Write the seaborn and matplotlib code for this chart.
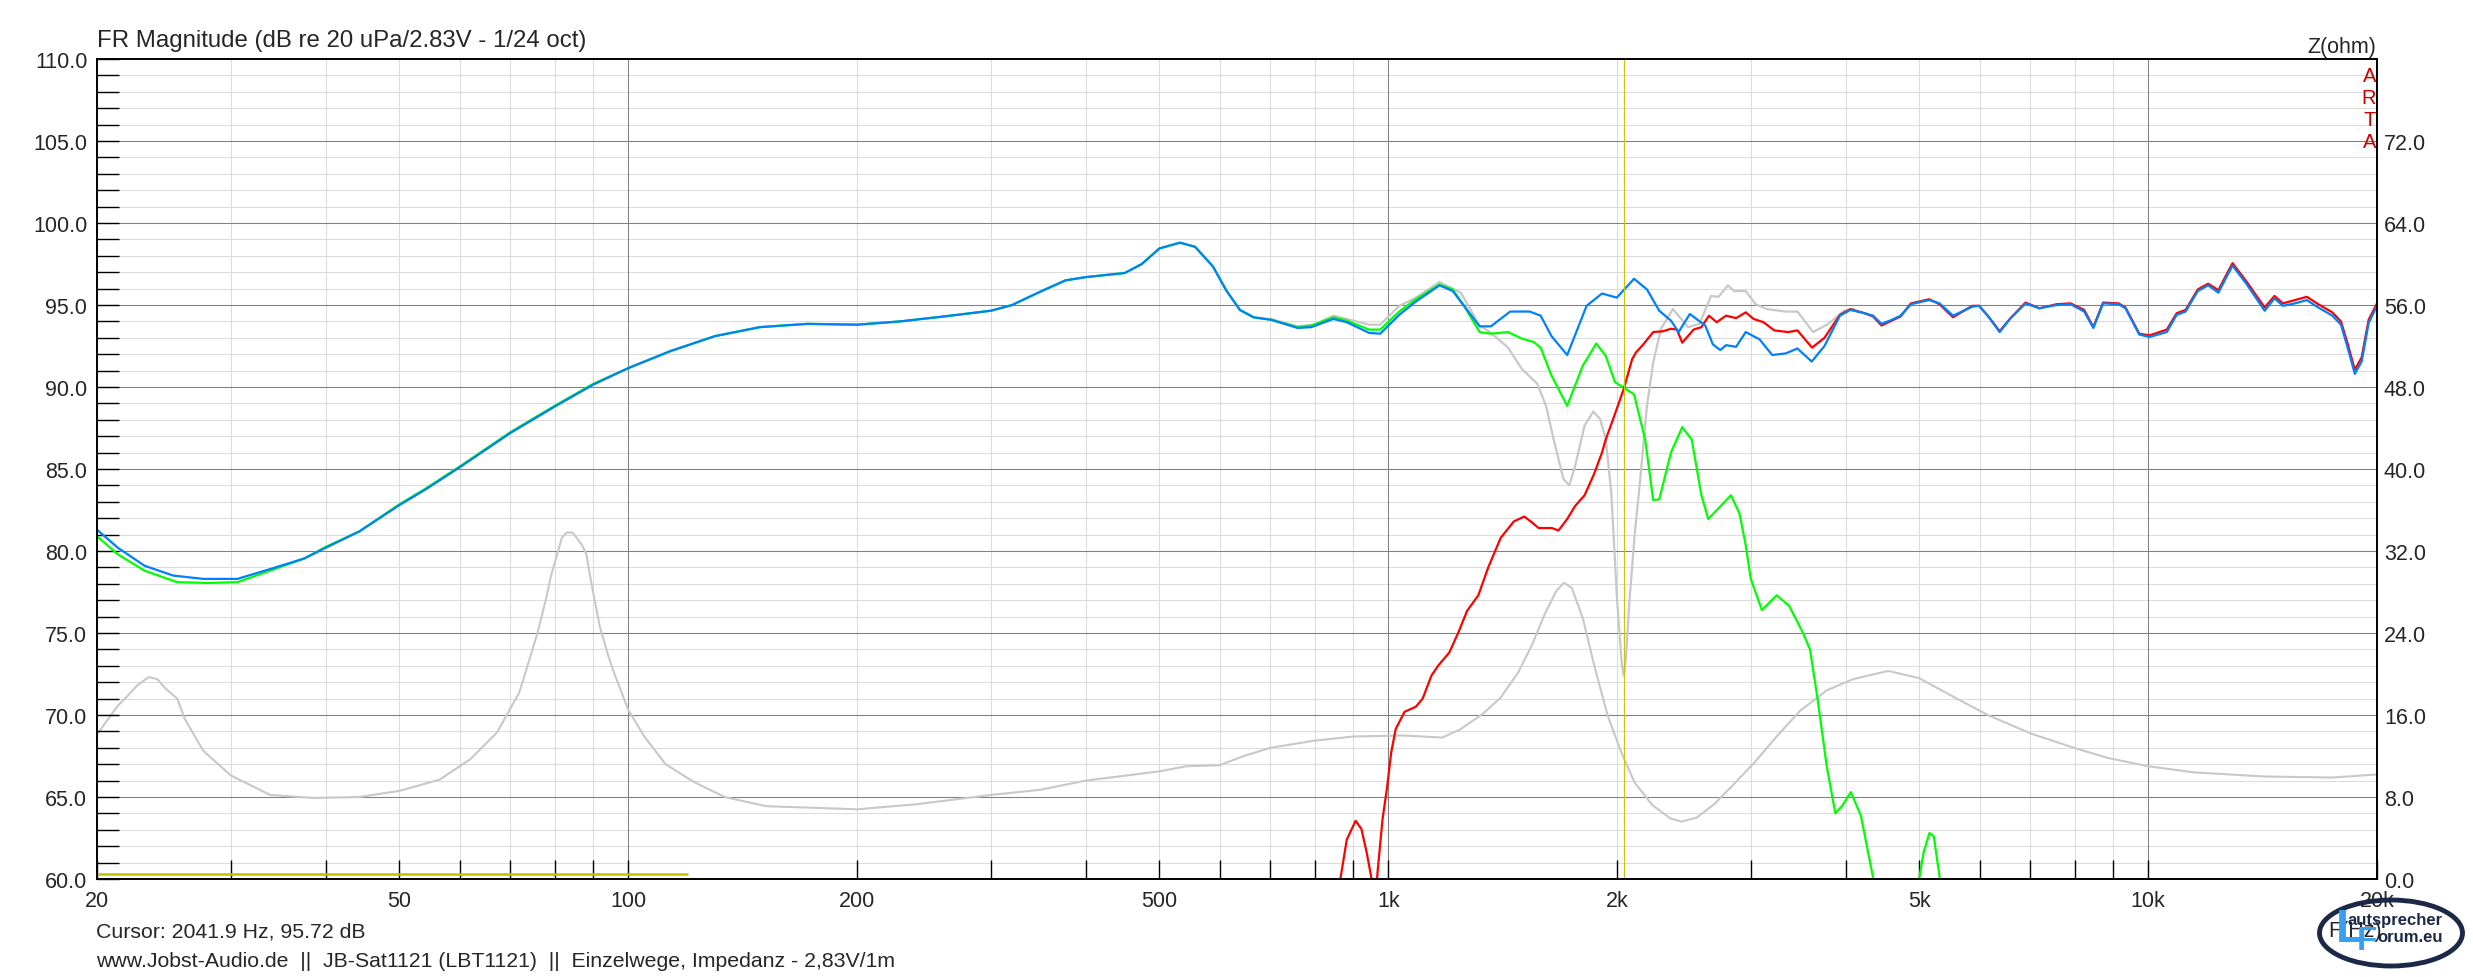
import numpy as np
import pandas as pd
import seaborn as sns
import matplotlib.pyplot as plt
from matplotlib.patches import Ellipse

# --- summed response (blue), dB
sum_freq = [20, 21.3, 23.1, 25.2, 27.6, 30.6, 33.8, 37.5, 40, 44.3, 50, 54.1, 60, 70, 80, 90, 100,
            113.8, 130, 149, 172, 200, 228, 260, 300, 320, 348, 376, 400, 450, 474, 500, 532, 557,
            588, 612, 638, 665, 701, 760, 792, 847, 882, 944, 976, 1034, 1083, 1168, 1216, 1319,
            1365, 1447, 1535, 1587, 1640, 1720, 1824, 1911, 1999, 2106, 2190, 2273, 2355, 2410,
            2494, 2613, 2674, 2735, 2783, 2869, 2954, 3081, 3201, 3335, 3455, 3608, 3750, 3930,
            4056, 4233, 4345, 4457, 4600, 4723, 4873, 5150, 5313, 5536, 5868, 5990, 6149, 6376,
            6576, 6895, 7192, 7578, 7903, 8237, 8469, 8722, 9143, 9334, 9732, 10040, 10580, 10900,
            11200, 11620, 11990, 12370, 12640, 12910, 13460, 14230, 14660, 15040, 15600, 16170,
            16740, 17470, 17930, 18310, 18700, 19090, 19500, 20000]
sum_db = [81.3, 80.2, 79.1, 78.5, 78.3, 78.3, 78.9, 79.55, 80.2, 81.2, 82.8, 83.75, 85.1, 87.2, 88.8,
          90.15, 91.15, 92.2, 93.1, 93.65, 93.85, 93.8, 94.0, 94.3, 94.65, 95.0, 95.8, 96.5, 96.7,
          96.95, 97.5, 98.45, 98.8, 98.55, 97.35, 95.9, 94.7, 94.25, 94.1, 93.6, 93.65, 94.15, 93.95,
          93.3, 93.25, 94.4, 95.15, 96.2, 95.85, 93.7, 93.7, 94.6, 94.6, 94.35, 93.1, 91.95, 94.95,
          95.7, 95.45, 96.6, 95.95, 94.65, 94.05, 93.35, 94.45, 93.75, 92.6, 92.25, 92.55, 92.45,
          93.35, 92.9, 91.95, 92.05, 92.35, 91.55, 92.5, 94.35, 94.7, 94.5, 94.35, 93.85, 94.1,
          94.35, 95.05, 95.3, 95.1, 94.35, 94.9, 94.95, 94.35, 93.35, 94.15, 95.1, 94.8, 95.0, 95.05,
          94.6, 93.6, 95.1, 95.05, 94.8, 93.2, 93.05, 93.35, 94.4, 94.6, 95.85, 96.2, 95.75, 96.6,
          97.4, 96.3, 94.65, 95.4, 94.95, 95.1, 95.3, 94.85, 94.35, 93.8, 92.35, 90.8, 91.55, 93.9,
          94.95]

# --- woofer (green), dB
woof_freq = [20, 21.3, 23.1, 25.5, 28, 30.6, 33.8, 37.5, 40, 44.3, 50, 54.1, 60, 70, 80, 90, 100,
             113.8, 130, 149, 172, 200, 228, 260, 300, 320, 348, 376, 400, 450, 474, 500, 532, 557,
             588, 612, 638, 665, 701, 760, 792, 847, 882, 944, 976, 1034, 1083, 1168, 1216, 1260,
             1319, 1365, 1438, 1499, 1553, 1587, 1640, 1720, 1803, 1878, 1933, 1988, 2042, 2106,
             2178, 2232, 2273, 2355, 2437, 2508, 2583, 2637, 2720, 2825, 2898, 2950, 3000, 3102,
             3245, 3370, 3510, 3589, 3672, 3775, 3875, 3955, 4062, 4188, 4342, 4420]
woof_db = [80.9, 79.8, 78.8, 78.1, 78.05, 78.1, 78.8, 79.55, 80.25, 81.2, 82.85, 83.8, 85.15, 87.25,
           88.85, 90.2, 91.15, 92.2, 93.1, 93.65, 93.85, 93.8, 94.0, 94.3, 94.65, 95.0, 95.8, 96.5,
           96.7, 96.95, 97.5, 98.45, 98.8, 98.55, 97.35, 95.9, 94.7, 94.25, 94.1, 93.65, 93.75, 94.25,
           94.05, 93.5, 93.5, 94.6, 95.3, 96.25, 95.95, 94.9, 93.35, 93.25, 93.35, 92.95, 92.75,
           92.4, 90.7, 88.85, 91.3, 92.65, 91.9, 90.3, 89.95, 89.55, 86.8, 83.1, 83.15, 86.0, 87.55,
           86.8, 83.4, 81.95, 82.6, 83.4, 82.3, 80.5, 78.3, 76.4, 77.3, 76.65, 75.05, 74.0, 71.0,
           66.9, 64.0, 64.45, 65.3, 63.85, 60.15, 58.5]
woof_lobe_freq = [4980, 4995, 5063, 5153, 5222, 5320, 5350]
woof_lobe_db = [58.5, 60.0, 61.6, 62.8, 62.6, 60.0, 58.5]

# --- tweeter (red), dB
tw_lobe_freq = [850, 865, 882, 906, 922, 937, 950, 958]
tw_lobe_db = [58.8, 60.0, 62.4, 63.55, 63.05, 61.6, 60.1, 58.8]
tw_freq = [962, 969, 983, 996, 1009, 1023, 1051, 1087, 1110, 1140, 1163, 1203, 1236, 1270, 1314,
           1354, 1406, 1463, 1510, 1545, 1577, 1642, 1675, 1720, 1762, 1813, 1866, 1911, 1933, 1977,
           2042, 2094, 2118, 2166, 2232, 2299, 2355, 2398, 2437, 2522, 2583, 2643, 2705, 2783, 2869,
           2954, 3025, 3118, 3221, 3358, 3455, 3612, 3750, 3930, 4056, 4233, 4345, 4457, 4600, 4723,
           4873, 5150, 5313, 5536, 5868, 5990, 6149, 6376, 6576, 6895, 7192, 7578, 7903, 8237, 8469,
           8722, 9143, 9334, 9732, 10040, 10580, 10900, 11200, 11620, 11990, 12370, 12640, 12910,
           13460, 14230, 14660, 15040, 15600, 16170, 16740, 17470, 17930, 18310, 18700, 19090,
           19500, 20000]
tw_db = [58.8, 60.6, 63.65, 65.5, 67.7, 69.15, 70.2, 70.5, 71.0, 72.4, 73.0, 73.8, 75.0, 76.35,
         77.3, 79.0, 80.8, 81.8, 82.1, 81.75, 81.4, 81.4, 81.25, 81.95, 82.75, 83.4, 84.7, 86.0,
         86.8, 88.05, 89.9, 91.7, 92.1, 92.6, 93.35, 93.4, 93.55, 93.5, 92.7, 93.5, 93.65, 94.35,
         93.95, 94.35, 94.2, 94.55, 94.15, 93.95, 93.45, 93.35, 93.45, 92.4, 93.0, 94.4, 94.75,
         94.5, 94.3, 93.75, 94.05, 94.3, 95.1, 95.35, 95.05, 94.25, 94.95, 94.95, 94.35, 93.4,
         94.15, 95.15, 94.8, 95.05, 95.1, 94.7, 93.65, 95.15, 95.1, 94.85, 93.25, 93.15, 93.5,
         94.5, 94.7, 95.95, 96.3, 95.9, 96.75, 97.55, 96.45, 94.85, 95.55, 95.1, 95.3, 95.5, 95.05,
         94.55, 94.0, 92.6, 91.05, 91.8, 94.1, 95.1]

# --- sum with tweeter inverted (light grey), dB
inv_freq = [701, 760, 800, 847, 882, 944, 976, 1034, 1083, 1168, 1246, 1319, 1365, 1438, 1499,
            1571, 1613, 1650, 1700, 1731, 1762, 1813, 1861, 1900, 1933, 1966, 2000, 2030, 2042,
            2055, 2078, 2110, 2142, 2190, 2232, 2285, 2369, 2425, 2480, 2568, 2659, 2720, 2799,
            2852, 2954, 3043, 3149, 3335, 3455, 3622, 3796, 3977, 4100]
inv_db = [94.15, 93.7, 93.8, 94.35, 94.15, 93.8, 93.8, 94.95, 95.4, 96.4, 95.75, 93.75, 93.3, 92.4,
          91.1, 90.2, 88.85, 86.85, 84.4, 84.0, 85.2, 87.65, 88.5, 88.05, 86.85, 83.5, 77.1, 73.0,
          72.4, 73.5, 77.1, 81.0, 84.0, 88.85, 91.5, 93.55, 94.75, 94.2, 93.65, 93.85, 95.55, 95.5,
          96.2, 95.85, 95.85, 95.05, 94.75, 94.6, 94.6, 93.35, 93.85, 94.65, 94.75]

# --- impedance (grey, right axis), ohm
imp_freq = [20, 21.3, 21.9, 22.6, 23.4, 24.0, 24.6, 25.5, 26.1, 27.6, 30, 33.8, 38.6, 44.3, 50,
            56.5, 62, 67.2, 71.9, 75.9, 78.0, 79.1, 80, 81.8, 83, 84.5, 86.9, 88.1, 89.3, 90.5,
            91.7, 94.2, 95.5, 100, 105, 112, 121.8, 133.9, 152, 183, 200, 240, 300, 348, 400, 500,
            542, 600, 646, 700, 800, 900, 1044, 1178, 1244, 1331, 1406, 1484, 1545, 1608, 1664,
            1703, 1744, 1804, 1867, 1945, 2025, 2110, 2227, 2352, 2434, 2548, 2685, 2836, 3036,
            3253, 3481, 3775, 4090, 4549, 4993, 5536, 6149, 7005, 7985, 8860, 10000, 11500, 14230,
            17470, 20000]
imp_ohm = [14.1, 16.9, 17.8, 18.9, 19.7, 19.5, 18.6, 17.6, 15.6, 12.5, 10.1, 8.2, 7.9, 8.0, 8.6,
           9.7, 11.7, 14.3, 18.2, 23.9, 27.4, 29.5, 30.8, 33.3, 33.8, 33.8, 32.6, 31.7, 29.1, 26.9,
           24.7, 21.7, 20.4, 16.5, 13.9, 11.2, 9.5, 8.0, 7.1, 6.9, 6.8, 7.3, 8.2, 8.7, 9.6, 10.5,
           11.0, 11.1, 12.0, 12.8, 13.5, 13.9, 14.0, 13.8, 14.6, 16.1, 17.7, 20.2, 22.8, 25.9, 28.1,
           28.9, 28.4, 25.4, 20.8, 15.9, 12.4, 9.4, 7.2, 5.9, 5.6, 6.0, 7.3, 9.1, 11.4, 14.0, 16.4,
           18.4, 19.5, 20.3, 19.6, 17.8, 16.0, 14.2, 12.8, 11.8, 11.0, 10.4, 10.0, 9.9, 10.2]

cursor_freq = 2041.9
cursor_db = 95.72
marker_freq = [20, 120]
marker_db = 60.3

x_labels = ['20', '50', '100', '200', '500', '1k', '2k', '5k', '10k', '20k']
x_label_pos = [20, 50, 100, 200, 500, 1000, 2000, 5000, 10000, 20000]

W, H = 2473, 978
sns.set_style("white")
plt.rcParams['font.family'] = ['Liberation Sans', 'DejaVu Sans']

fig = plt.figure(figsize=(W / 100, H / 100), dpi=100)
L, R, T, B = 97, 2377, 60, 880
ax = fig.add_axes([L / W, 1 - B / H, (R - L) / W, (B - T) / H])
ax2 = ax.twinx()
ax.set_zorder(ax2.get_zorder() + 1)
ax.patch.set_visible(False)

for a in (ax, ax2):
    a.set_xscale('log')
    a.set_xlim(20, 20000)
ax.set_ylim(60, 110)
ax2.set_ylim(0, 80)

# grid, drawn on the rear axes
minor_f = [m * d for d in (10, 100, 1000) for m in range(2, 10)] + [20000]
for f in minor_f:
    ax2.axvline(f, color='#dcdcdc', lw=0.75, zorder=0)
for f in (100, 1000, 10000):
    ax2.axvline(f, color='#808080', lw=0.75, zorder=0.5)
for z in np.arange(0, 80.01, 1.6):
    ax2.axhline(z, color='#dcdcdc', lw=0.75, zorder=0)
for z in np.arange(8, 80, 8):
    ax2.axhline(z, color='#808080', lw=0.75, zorder=0.5)

sns.lineplot(x=imp_freq, y=imp_ohm, ax=ax2, color='#c8c8c8', linewidth=1.5,
             estimator=None, sort=False, legend=False)

line_kw = dict(ax=ax, linewidth=1.6, estimator=None, sort=False, legend=False)
sns.lineplot(x=inv_freq, y=inv_db, color='#c8c8c8', **line_kw)
sns.lineplot(x=woof_freq, y=woof_db, color='#00ff00', **line_kw)
sns.lineplot(x=woof_lobe_freq, y=woof_lobe_db, color='#00ff00', **line_kw)
sns.lineplot(x=tw_lobe_freq, y=tw_lobe_db, color='#ff0000', **line_kw)
sns.lineplot(x=tw_freq, y=tw_db, color='#ff0000', **line_kw)
sns.lineplot(x=sum_freq, y=sum_db, color='#0080ff', **line_kw)

ax.axvline(cursor_freq, color='#c8c800', lw=0.9)
ax.hlines(marker_db, marker_freq[0], marker_freq[1], color='#c0c000', lw=1.8)

# ticks
ax.set_yticks(np.arange(60, 110.1, 5))
ax.set_yticklabels([f'{v:.1f}' for v in np.arange(60, 110.1, 5)])
ax.set_yticks(np.arange(60, 111, 1), minor=True)
ax.set_xticks(x_label_pos)
ax.set_xticklabels(x_labels)
ax.set_xticks([f for f in minor_f if f not in x_label_pos], minor=True)
ax.xaxis.set_minor_formatter(plt.NullFormatter())
ax.tick_params(axis='y', which='both', direction='in', length=16, width=1, color='black',
               left=True, right=False, labelsize=15.5, pad=7)
ax.tick_params(axis='x', which='both', direction='in', length=13.5, width=1, color='black',
               bottom=True, top=False, labelsize=15.5, pad=8)
ax.set_xlabel('')
ax.set_ylabel('')

ax2.set_yticks(np.arange(0, 72.1, 8))
ax2.set_yticklabels([f'{v:.1f}' for v in np.arange(0, 72.1, 8)])
ax2.tick_params(axis='y', length=0, labelsize=15.5, pad=5)
ax2.set_ylabel('')

for sp in ax.spines.values():
    sp.set_color('black')
    sp.set_linewidth(1.4)
for sp in ax2.spines.values():
    sp.set_visible(False)

# texts
fig.text(L / W, 1 - 41 / H, 'FR Magnitude (dB re 20 uPa/2.83V - 1/24 oct)',
         ha='left', va='center', fontsize=17.3)
fig.text(2376 / W, 1 - 47 / H, 'Z(ohm)', ha='right', va='center', fontsize=15.5)
for i, ch in enumerate('ARTA'):
    fig.text(2376 / W, 1 - (77 + 22 * i) / H, ch, ha='right', va='center',
             fontsize=14.5, color='#cc0000')
fig.text(96 / W, 1 - 932 / H, f'Cursor: {cursor_freq} Hz, {cursor_db} dB',
         ha='left', va='center', fontsize=15.3)
fig.text(96 / W, 1 - 962 / H,
         'www.Jobst-Audio.de  ||  JB-Sat1121 (LBT1121)  ||  Einzelwege, Impedanz - 2,83V/1m',
         ha='left', va='center', fontsize=15.3)
fig.text(2328 / W, 1 - 932 / H, 'F(Hz)', ha='left', va='center', fontsize=15.5)

# forum logo
fig.patches.append(Ellipse((2391 / W, 1 - 934 / H), 143 / W, 66 / H, transform=fig.transFigure,
                           facecolor='none', edgecolor='#1c2848', lw=3.5))
fig.text(2336 / W, 1 - 930 / H, 'L', ha='left', va='center', fontsize=34,
         fontweight='bold', color='#3a9ff0')
fig.text(2357 / W, 1 - 942 / H, 'F', ha='left', va='center', fontsize=24,
         fontweight='bold', color='#3a9ff0')
fig.text(2443 / W, 1 - 921 / H, 'autsprecher', ha='right', va='center', fontsize=12,
         fontweight='bold', color='#1c2848')
fig.text(2443 / W, 1 - 938 / H, 'orum.eu', ha='right', va='center', fontsize=12,
         fontweight='bold', color='#1c2848')

fig.savefig('out.png', dpi=100, facecolor='white')
